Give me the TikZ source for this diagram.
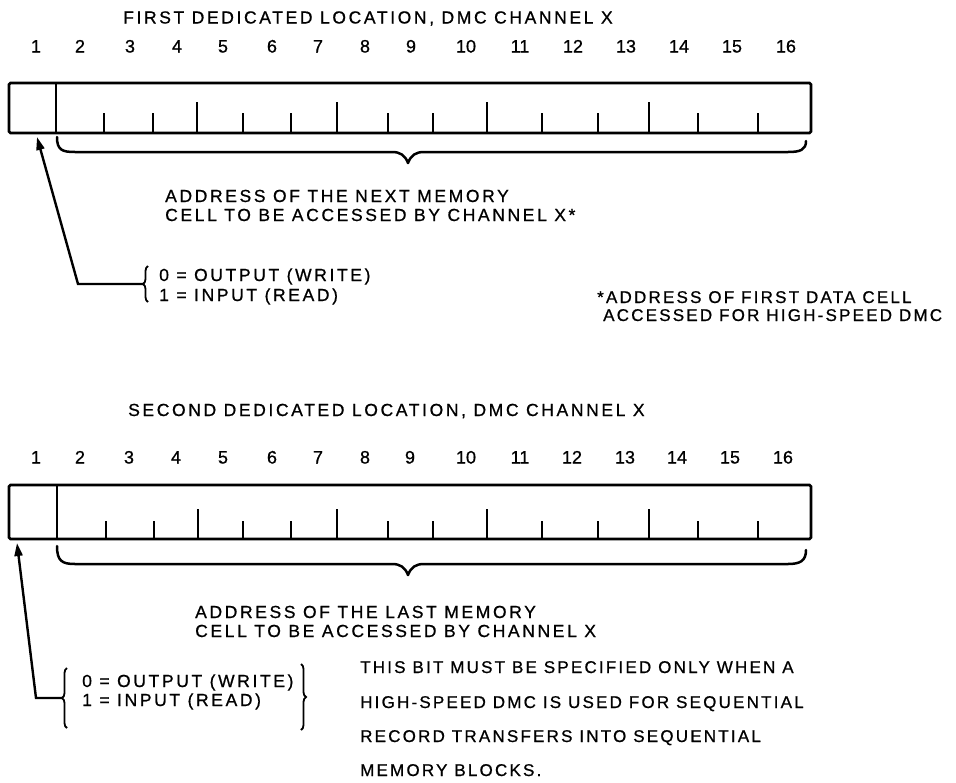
\documentclass[tikz,border=0pt]{standalone}
\usepackage{fontspec}
\setmainfont{Liberation Sans}[FakeBold=0.8]
\newfontfamily\biglbl{Liberation Sans}[LetterSpace=15,FakeBold=0.8]
\newfontfamily\smalllbl{Liberation Sans}[LetterSpace=13,FakeBold=0.8]
\usetikzlibrary{arrows.meta,decorations.pathreplacing}
\begin{document}
\begin{tikzpicture}[x=1pt,y=-1pt,
  lbl/.style={anchor=base west,inner sep=0pt,font=\biglbl\fontsize{17.5}{19}\selectfont},
  lblsm/.style={anchor=base west,inner sep=0pt,font=\smalllbl\fontsize{17}{19}\selectfont},
  num/.style={anchor=base,inner sep=0pt,font=\fontsize{18}{19}\selectfont},
  reg/.style={line width=2.8pt,rounded corners=1.5pt},
  tickline/.style={line width=2.6pt},
  bracepath/.style={line width=2.5pt,line cap=round,line join=round},
  smallbrace/.style={line width=1.8pt,decorate,decoration={brace,amplitude=5pt}},
  lead/.style={line width=2.4pt,line join=miter,-{Triangle[length=13pt,width=8pt]}},
  ]
\useasboundingbox (0,0) rectangle (956,782);

% ---------- first location ----------
\node[lbl] (title1) at (123,23.5) {FIRST DEDICATED LOCATION, DMC CHANNEL X};
\foreach \n/\x in {1/36,2/80,3/130,4/177,5/223,6/272,7/318,8/365,9/411,10/466,11/520,12/573,13/626,14/679,15/732,16/786}
  \node[num] (na\n) at (\x,52.5) {\n};
\draw[reg] (9,83) rectangle (811,133);
\draw[tickline] (56,83) -- (56,133);
\foreach \x/\t in {104/113,153/113,197/102,243/113,291/113,337/102,388/113,433/113,487/102,542/113,598/113,649/102,698/113,758/113}
  \draw[tickline] (\x,133) -- (\x,\t);
\draw[bracepath] (57,137) .. controls (57,150) and (62,152) .. (75,152) -- (392,152)
  .. controls (400,152) and (405,155) .. (408,163) .. controls (411,155) and (416,152) .. (424,152)
  -- (788,152) .. controls (800,152) and (806,150) .. (806,141);
\node[lbl] (addr1a) at (165,202) {ADDRESS OF THE NEXT MEMORY};
\node[lbl] (addr1b) at (165,221) {CELL TO BE ACCESSED BY CHANNEL X*};
\coordinate (tipA) at (37,137);
\coordinate (cornerA) at (78,284);
\coordinate (braceA) at (143,284);
\draw[smallbrace] (148,302) -- (148,266);
\node[lbl] (outA) at (159,281) {0 = OUTPUT (WRITE)};
\node[lbl] (inA) at (159,301) {1 = INPUT (READ)};
\draw[lead] (braceA) -- (cornerA) -- (tipA);
\node[lblsm] (note1) at (597,303) {*ADDRESS OF FIRST DATA CELL};
\node[lblsm] (note2) at (603,321) {ACCESSED FOR HIGH-SPEED DMC};

% ---------- second location ----------
\node[lbl] (title2) at (128,416) {SECOND DEDICATED LOCATION, DMC CHANNEL X};
\foreach \n/\x in {1/36,2/80,3/129,4/176,5/223,6/272,7/318,8/365,9/410,10/466,11/520,12/572,13/625,14/677,15/730,16/783}
  \node[num] (nb\n) at (\x,463.5) {\n};
\draw[reg] (9,485) rectangle (811,539);
\draw[tickline] (57,485) -- (57,539);
\foreach \x/\t in {106/521,154/521,198/509,243/521,291/521,337/509,388/521,433/521,487/509,542/521,598/521,649/509,698/521,758/521}
  \draw[tickline] (\x,539) -- (\x,\t);
\draw[bracepath] (57,546) .. controls (57,561) and (62,564) .. (75,564) -- (392,564)
  .. controls (400,564) and (405,567) .. (408,575) .. controls (411,567) and (416,564) .. (424,564)
  -- (788,564) .. controls (800,564) and (806,561) .. (806,550);
\node[lbl] (addr2a) at (195,618) {ADDRESS OF THE LAST MEMORY};
\node[lbl] (addr2b) at (195,637) {CELL TO BE ACCESSED BY CHANNEL X};
\coordinate (tipB) at (17,543);
\coordinate (cornerB) at (36,698);
\coordinate (braceB) at (62,698);
\draw[smallbrace] (67,728) -- (67,668);
\node[lbl] (outB) at (82,687) {0 = OUTPUT (WRITE)};
\node[lbl] (inB) at (82,706) {1 = INPUT (READ)};
\draw[lead] (braceB) -- (cornerB) -- (tipB);
\draw[smallbrace] (301,664) -- (301,730);
\node[lblsm] (bit1) at (360,673) {THIS BIT MUST BE SPECIFIED ONLY WHEN A};
\node[lblsm] (bit2) at (360,708) {HIGH-SPEED DMC IS USED FOR SEQUENTIAL};
\node[lblsm] (bit3) at (360,742) {RECORD TRANSFERS INTO SEQUENTIAL};
\node[lblsm] (bit4) at (360,776) {MEMORY BLOCKS.};
\end{tikzpicture}
\end{document}
